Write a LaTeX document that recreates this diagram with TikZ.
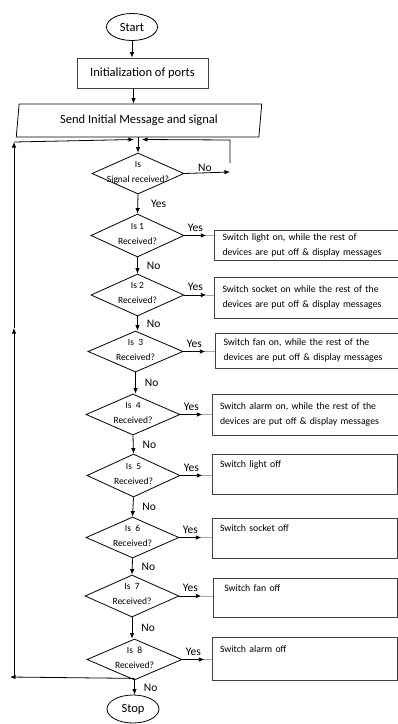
\documentclass[tikz,border=0pt]{standalone}
\usepackage{fontspec}
\setmainfont{Carlito}
\usetikzlibrary{shapes.geometric,arrows.meta}
\newcommand{\dtxt}[2]{\makebox[0pt]{\smash{\raisebox{-1pt}{\begin{tabular}{@{}c@{}}#1\\[3pt]#2\end{tabular}}}}}
\begin{document}
\begin{tikzpicture}[x=1pt,y=-1pt,
  arr/.style={-{Latex[length=5.5pt,width=4.5pt]}, line width=0.8pt},
  term/.style={draw, ellipse, line width=0.8pt, inner sep=0pt, font=\fontsize{12.5}{14}\selectfont},
  proc/.style={draw=black!75, rectangle, line width=0.7pt, inner sep=0pt, font=\fontsize{12.5}{14}\selectfont},
  io/.style={draw, trapezium, trapezium left angle=80, trapezium right angle=100, trapezium stretches=true, line width=0.8pt, inner sep=0pt, font=\fontsize{12.5}{14}\selectfont},
  dec/.style={draw, diamond, line width=0.8pt, inner sep=0pt, font=\fontsize{9.5}{12}\selectfont},
  act/.style={draw=black!75, rectangle, line width=0.7pt, inner xsep=8pt, inner ysep=0pt, align=left, font=\fontsize{9.8}{15}\selectfont},
  lbl/.style={inner sep=0pt, font=\fontsize{11.5}{13}\selectfont},
  thinl/.style={draw=gray!70, line width=0.6pt}
]
\useasboundingbox (0,0) rectangle (397,724);

% main column
\node[term, minimum width=51pt, minimum height=27pt] (start) at (132,27) {Start};
\node[proc, minimum width=131pt, minimum height=30pt] (init) at (142.5,73) {Initialization of ports};
\node[io, minimum width=246pt, minimum height=33pt] (send) at (139,120.5) {Send Initial Message and signal};

\node[dec, minimum width=92pt, minimum height=41pt] (d0) at (138,173.5) {\dtxt{Is}{Signal received?}};
\node[dec, minimum width=93pt, minimum height=43pt] (d1) at (137.5,235.5) {\dtxt{Is 1}{Received?}};
\node[dec, minimum width=93pt, minimum height=42pt] (d2) at (137.5,295) {\dtxt{Is 2}{Received?}};
\node[dec, minimum width=95pt, minimum height=41pt] (d3) at (135.5,351.5) {\dtxt{Is\ \ 3}{Received?}};
\node[dec, minimum width=94pt, minimum height=41pt] (d4) at (133,414.5) {\dtxt{Is\ \ 4}{Received?}};
\node[dec, minimum width=93pt, minimum height=43pt] (d5) at (133.5,475.5) {\dtxt{Is\ \ 5}{Received?}};
\node[dec, minimum width=93pt, minimum height=41pt] (d6) at (132.5,537.5) {\dtxt{Is\ \ 6}{Received?}};
\node[dec, minimum width=94pt, minimum height=42pt] (d7) at (132,596) {\dtxt{Is\ \ 7}{Received?}};
\node[dec, minimum width=95pt, minimum height=41pt] (d8) at (134.5,659.5) {\dtxt{Is\ \ 8}{Received?}};

\node[term, minimum width=52pt, minimum height=28pt] (stop) at (133,709) {Stop};

% action boxes
\node[act, minimum width=179pt, minimum height=30pt, text width=170pt] (b1) at (307.5,245) {Switch light on, while the rest of\\devices are put off \& display messages};
\node[act, minimum width=179pt, minimum height=41pt, text width=170pt] (b2) at (307.5,297.5) {Switch socket on while the rest of the\\devices are put off \& display messages};
\node[act, minimum width=177pt, minimum height=35pt, text width=170pt] (b3) at (308.5,350.5) {Switch fan on, while the rest of the\\devices are put off \& display messages};
\node[act, minimum width=184pt, minimum height=41pt, text width=170pt] (b4) at (305,414.5) {Switch alarm on, while the rest of the\\devices are put off \& display messages};
\node[act, minimum width=185pt, minimum height=40pt, text width=169pt] (b5) at (304.5,474) {Switch light off\\\strut};
\node[act, minimum width=185pt, minimum height=40pt, text width=169pt] (b6) at (304.5,538) {Switch socket off\\\strut};
\node[act, minimum width=184pt, minimum height=39pt, text width=168pt] (b7) at (305,597.5) {\ Switch fan off\\\strut};
\node[act, minimum width=185pt, minimum height=43pt, text width=169pt] (b8) at (304.5,658.5) {Switch alarm off\\\strut};

% top arrows
\draw[arr] (start.south) -- (start.south |- init.north);
\draw[arr] (init.south -| start.south) ++(1.5,0) coordinate (is) (is) -- (is |- send.north);
\draw[arr] (send.south -| d0.north) -- (d0.north);

% vertical chain
\draw[arr] (d0.south) -- node[lbl, right=13pt] {Yes} (d1.north);
\draw[arr] (d1.south) -- node[lbl, right=9pt] {No} (d2.north);
\draw[arr] (d2.south) -- node[lbl, right=9pt] {No} (d2.south |- d3.north);
\draw[arr] (d3.south) -- node[lbl, right=9pt] {No} (d3.south |- d4.north);
\draw[arr] (d4.south) -- node[lbl, right=9pt] {No} (d5.north);
\draw[arr] (d5.south) -- node[lbl, right=9pt] {No} (d6.north);
\draw[arr] (d6.south) -- node[lbl, right=9pt] {No} (d7.north);
\draw[arr] (d7.south) -- node[lbl, right=9pt] {No} (d7.south |- d8.north);
\draw[arr] (d8.south) -- node[lbl, right=9pt] {No} (d8.south |- stop.north);

% yes branches
\foreach \i in {1,...,8}{
  \draw[arr] (d\i.east) -- node[lbl, above=4pt] {Yes} ++(22,0) coordinate (y\i);
  \draw[thinl] (y\i) -- (b\i.west |- y\i);
}

% no loop from first decision
\coordinate (rn) at (230,172);
\coordinate (rb) at (230,163);
\coordinate (rt) at (230,140);
\coordinate (rin) at (142,139.5);
\draw[arr] (d0.east) -- node[lbl, above=1pt, pos=0.45] {No} (rn);
\draw[arr] (rb) -- (rt) -- (rin);

% left return loop
\coordinate (lb) at (10,677);
\coordinate (lv) at (14,676);
\coordinate (lm) at (14,328);
\coordinate (lt) at (14,142);
\coordinate (lin) at (134,139.5);
\draw[arr] (d8.south) ++(0,-2) coordinate (d8b) (d8b) -- (lb);
\draw[arr] (lv) -- (lm);
\draw[arr] (lm) -- (lt);
\draw[arr] (lt) -- (lin);
\end{tikzpicture}
\end{document}
